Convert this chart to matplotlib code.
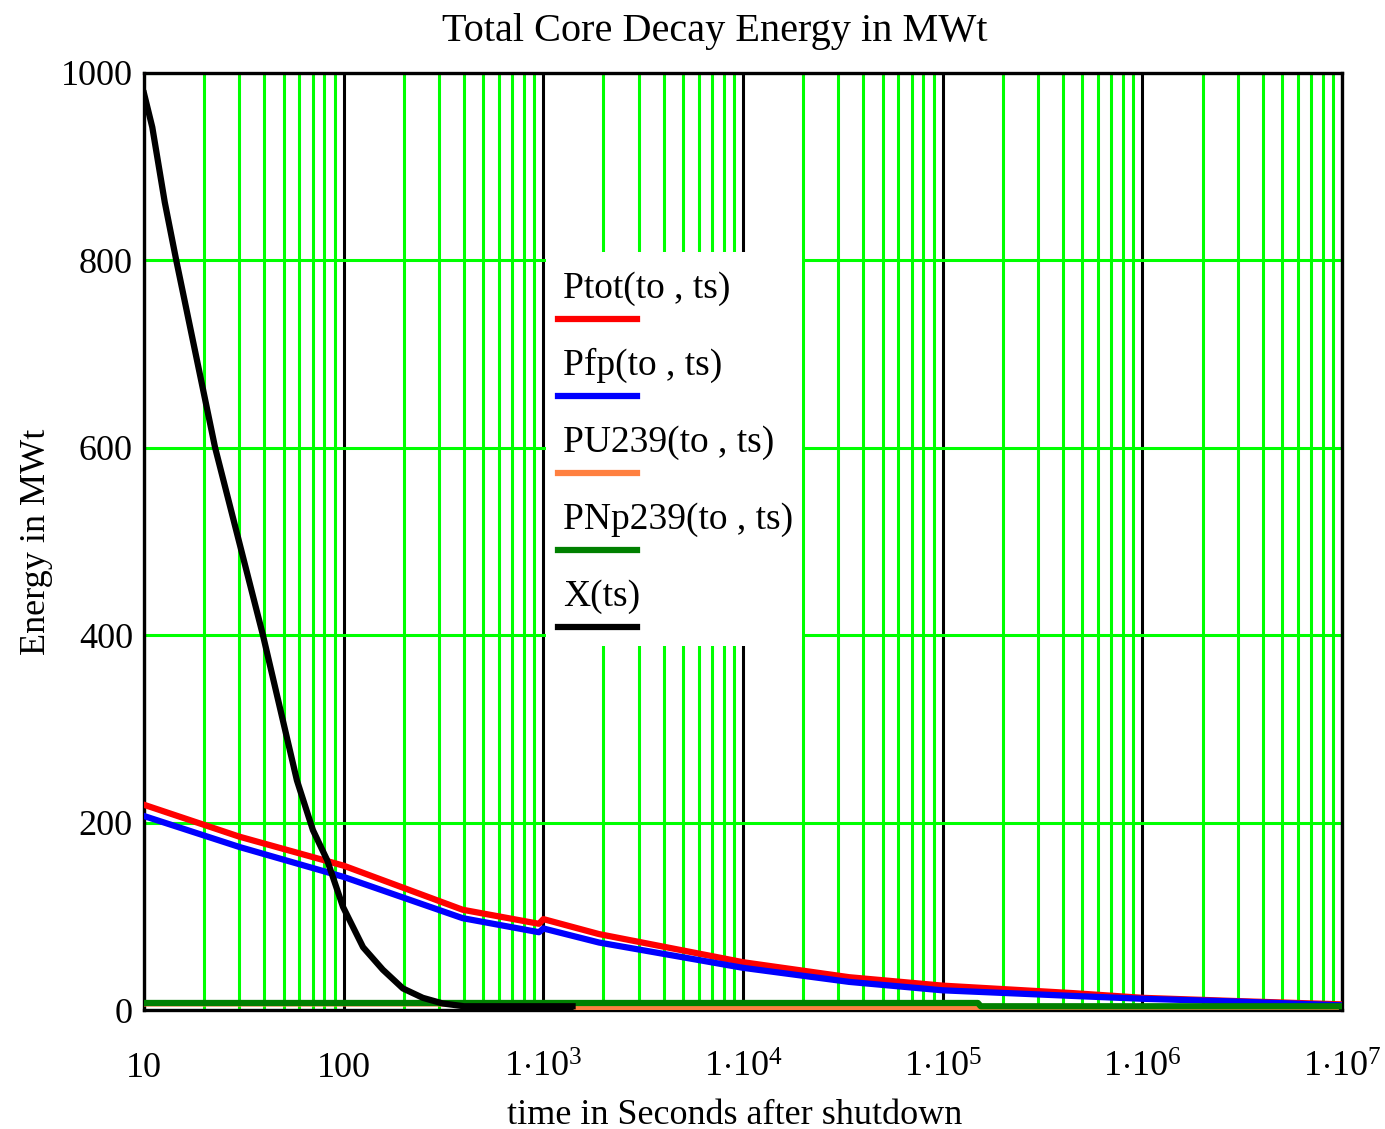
import matplotlib.pyplot as plt
from matplotlib.patches import Rectangle
from matplotlib.ticker import NullFormatter

plt.rcParams['font.family'] = 'Liberation Serif'
plt.rcParams['mathtext.fontset'] = 'custom'
plt.rcParams['mathtext.rm'] = 'Liberation Serif'

# values (time in s, energy in MWt)
t_tot = [10, 30, 100, 394, 950, 1000, 1900, 1e4, 3.4e4, 1e5, 4.5e5, 1e6, 3e6, 1e7]
p_tot = [219, 185, 154, 107, 92, 97, 81, 51, 35, 26, 18, 13, 9.5, 6]

t_fp = [10, 30, 100, 394, 950, 1000, 1900, 1e4, 3.4e4, 1e5, 4.5e5, 1e6, 3e6, 1e7]
p_fp = [207, 174, 142, 98, 83, 87, 72, 45, 30, 21, 15, 12, 9, 5]

t_u239 = [10, 1400, 1450, 1.5e5, 1.55e5, 9.3e6]
p_u239 = [7, 7, 3, 3, 1, 1]

t_np239 = [10, 1.5e5, 1.55e5, 1e7]
p_np239 = [7.5, 7.5, 4, 4]

t_x = [10, 11, 12.7, 14.5, 22.7, 39.4, 58.3, 70.1, 82.6, 99.2, 125, 157, 198, 249, 313, 400, 1400]
p_x = [978, 942, 862, 800, 600, 400, 245, 192, 160, 110, 67, 43, 23, 13, 7, 4, 4]

legend_labels = ["Ptot(to , ts)", "Pfp(to , ts)", "PU239(to , ts)", "PNp239(to , ts)", "X(ts)"]
colors = ["#ff0000", "#0000ff", "#ff8040", "#008000", "#000000"]

decades = [10, 100, 1e3, 1e4, 1e5, 1e6, 1e7]
decade_labels = ["10", "100", r"$\mathrm{1{\cdot}10^{3}}$", r"$\mathrm{1{\cdot}10^{4}}$",
                 r"$\mathrm{1{\cdot}10^{5}}$", r"$\mathrm{1{\cdot}10^{6}}$", r"$\mathrm{1{\cdot}10^{7}}$"]
minor_ticks = [m * d for d in decades[:-1] for m in range(2, 10)]

fig = plt.figure(figsize=(13.85, 11.29), dpi=100)
ax = fig.add_axes([0.104, 0.1054, 0.865, 0.830])
ax.set_xscale('log')
ax.set_xlim(10, 1e7)
ax.set_ylim(0, 1000)

ax.set_xticks(decades)
ax.set_xticklabels(decade_labels)
ax.set_xticks(minor_ticks, minor=True)
ax.xaxis.set_minor_formatter(NullFormatter())
ax.set_yticks([0, 200, 400, 600, 800, 1000])

ax.grid(which='minor', axis='x', color='#00ff00', lw=2.2)
ax.grid(which='major', axis='x', color='black', lw=2.2)
ax.grid(which='major', axis='y', color='#00ff00', lw=2.2)

ax.tick_params(which='both', length=0, labelsize=26)
ax.tick_params(axis='x', pad=48)
ax.tick_params(axis='y', pad=8)
plt.setp(ax.get_xticklabels(), va='baseline')

for s in ax.spines.values():
    s.set_linewidth(2.4)
    s.set_color('black')

lw = 4.5
ax.plot(t_tot, p_tot, color=colors[0], lw=lw, zorder=3)
ax.plot(t_fp, p_fp, color=colors[1], lw=lw, zorder=4)
ax.plot(t_u239, p_u239, color=colors[2], lw=lw, zorder=5)
ax.plot(t_np239, p_np239, color=colors[3], lw=lw, zorder=6)
ax.plot(t_x, p_x, color=colors[4], lw=lw, zorder=7)

# legend: white box over the grid, label above each line sample
ax.add_patch(Rectangle((0.3356, 0.3885), 0.2136, 0.4205, transform=ax.transAxes,
                       facecolor='white', edgecolor='none', zorder=2))
for i, (lab, c) in enumerate(zip(legend_labels, colors)):
    yb = 0.7599 - i * 0.0822
    yl = 0.7375 - i * 0.0822
    ax.text(0.3497, yb, lab, transform=ax.transAxes, fontsize=27, va='baseline', zorder=8)
    ax.plot([0.3456, 0.4115], [yl, yl], transform=ax.transAxes, color=c, lw=lw, zorder=8)

fig.text(715 / 1385, 1 - 31 / 1129, "Total Core Decay Energy in MWt", fontsize=29,
         ha='center', va='center')
fig.text(735 / 1385, 1 - 1115 / 1129, "time in Seconds after shutdown", fontsize=26,
         ha='center', va='center')
ax.set_ylabel("Energy in MWt", fontsize=26, labelpad=6)

fig.savefig("out.png", dpi=100, facecolor='white')
